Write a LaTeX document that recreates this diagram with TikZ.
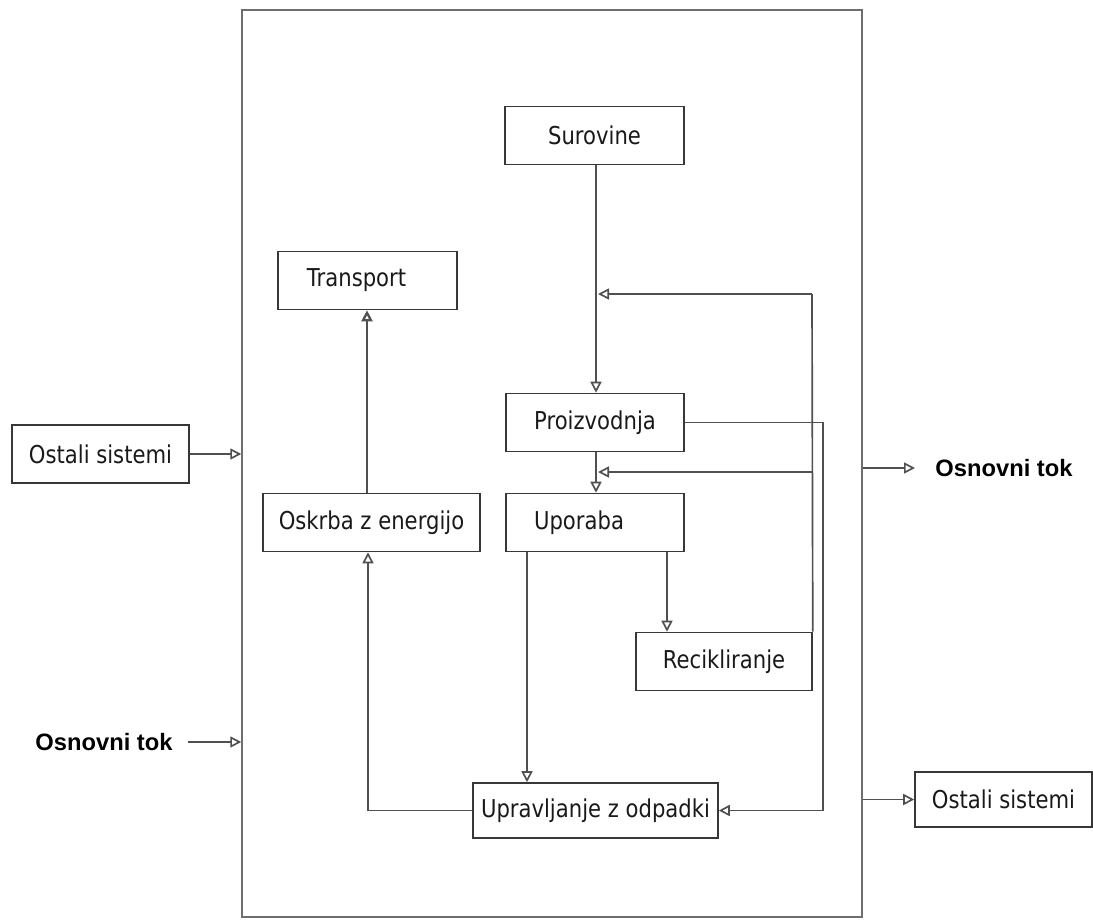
\documentclass[tikz,border=0pt]{standalone}
\usepackage{fontspec}
\setmainfont{DejaVu Sans}[FakeStretch=0.86]
\newfontfamily\tokfont{Liberation Sans}
\usepackage{tikz}
\usetikzlibrary{arrows.meta,positioning}
\definecolor{schemaLine}{RGB}{80, 80, 80}
\definecolor{schemaFrame}{RGB}{110, 110, 110}
\definecolor{schemaBorder}{RGB}{55, 55, 55}
\definecolor{schemaText}{RGB}{25, 25, 25}

\begin{document}
\begin{tikzpicture}[
  x=0.02cm, y=-0.02cm,
  block/.style={
    draw=schemaBorder,
    line width=0.9pt,
    minimum height=1.16cm,
    inner sep=0pt,
    text=schemaText,
    font=\fontsize{14}{16}\selectfont
  },
  flowlabel/.style={
    text=black,
    inner sep=0pt,
    font=\tokfont\bfseries\fontsize{13.5}{15}\selectfont
  },
  arrow/.style={-{Triangle[open,length=2.2mm,width=2.2mm]},line width=0.95pt,schemaLine}
]
  \useasboundingbox (0,0) rectangle (1093,921);
  \node[draw=schemaFrame,line width=0.9pt,minimum width=12.4cm,minimum height=18.14cm,inner sep=0pt] (system) at (552,463.5) {};

  \node[block,minimum width=3.58cm] (surovine) at (594.5,135.5) {Surovine};
  \node[block,minimum width=3.56cm] (proizvodnja) at (595,422.5) {Proizvodnja};
  \node[block,minimum width=3.56cm] (uporaba) at (595,522.5) {\hspace*{-0.64cm}Uporaba};
  \node[block,minimum width=3.52cm] (recikliranje) at (724,661.5) {Recikliranje};
  \node[block,minimum width=4.9cm,minimum height=1.1cm] (odpadki) at (595.5,810.5) {Upravljanje z odpadki};
  \node[block,minimum width=4.34cm] (energija) at (371.5,522.5) {Oskrba z energijo};
  \node[block,minimum width=3.58cm] (transport) at (367.5,280.5) {\hspace*{-0.44cm}Transport};
  \node[block,minimum width=3.54cm] (ostaliIn) at (100.5,454) {Ostali sistemi};
  \node[block,minimum width=3.54cm,minimum height=1.1cm] (ostaliOut) at (1003.5,799.5) {Ostali sistemi};
  \node[flowlabel] (tokIn) at (104,742) {Osnovni tok};
  \node[flowlabel] (tokOut) at (1004,468) {Osnovni tok};

  \coordinate (vrhZanke) at (812,294);
  \coordinate (sredZanke) at (812,472);

  \draw[arrow] (surovine.south -| 596,0) -- (596,0 |- proizvodnja.north);
  \draw[arrow] (proizvodnja.south -| 596,0) -- (596,0 |- uporaba.north);
  \draw[schemaLine,line width=0.95pt] (recikliranje.north east) -- (vrhZanke);
  \draw[arrow] (vrhZanke) -- (598,294);
  \draw[arrow] (sredZanke) -- (598,472);
  \draw[arrow] (proizvodnja.east) -- (823,0 |- proizvodnja.east) |- (odpadki.east);
  \draw[arrow] (uporaba.south -| 527,0) -- (527,0 |- odpadki.north);
  \draw[arrow] (uporaba.south -| 667,0) -- (667,0 |- recikliranje.north);
  \draw[arrow] (odpadki.west) -| (368,0 |- energija.south);
  \draw[arrow,line width=1.3pt] (energija.north -| 367,0) -- (367,0 |- transport.south);

  \draw[arrow] (ostaliIn.east) -- (ostaliIn.east -| system.west);
  \draw[arrow] (188,742) -- (tokIn.east -| system.west);
  \draw[arrow] (tokOut.west -| system.east) -- (915,468);
  \draw[arrow] (ostaliOut.west -| system.east) -- (ostaliOut.west);
\end{tikzpicture}
\end{document}
